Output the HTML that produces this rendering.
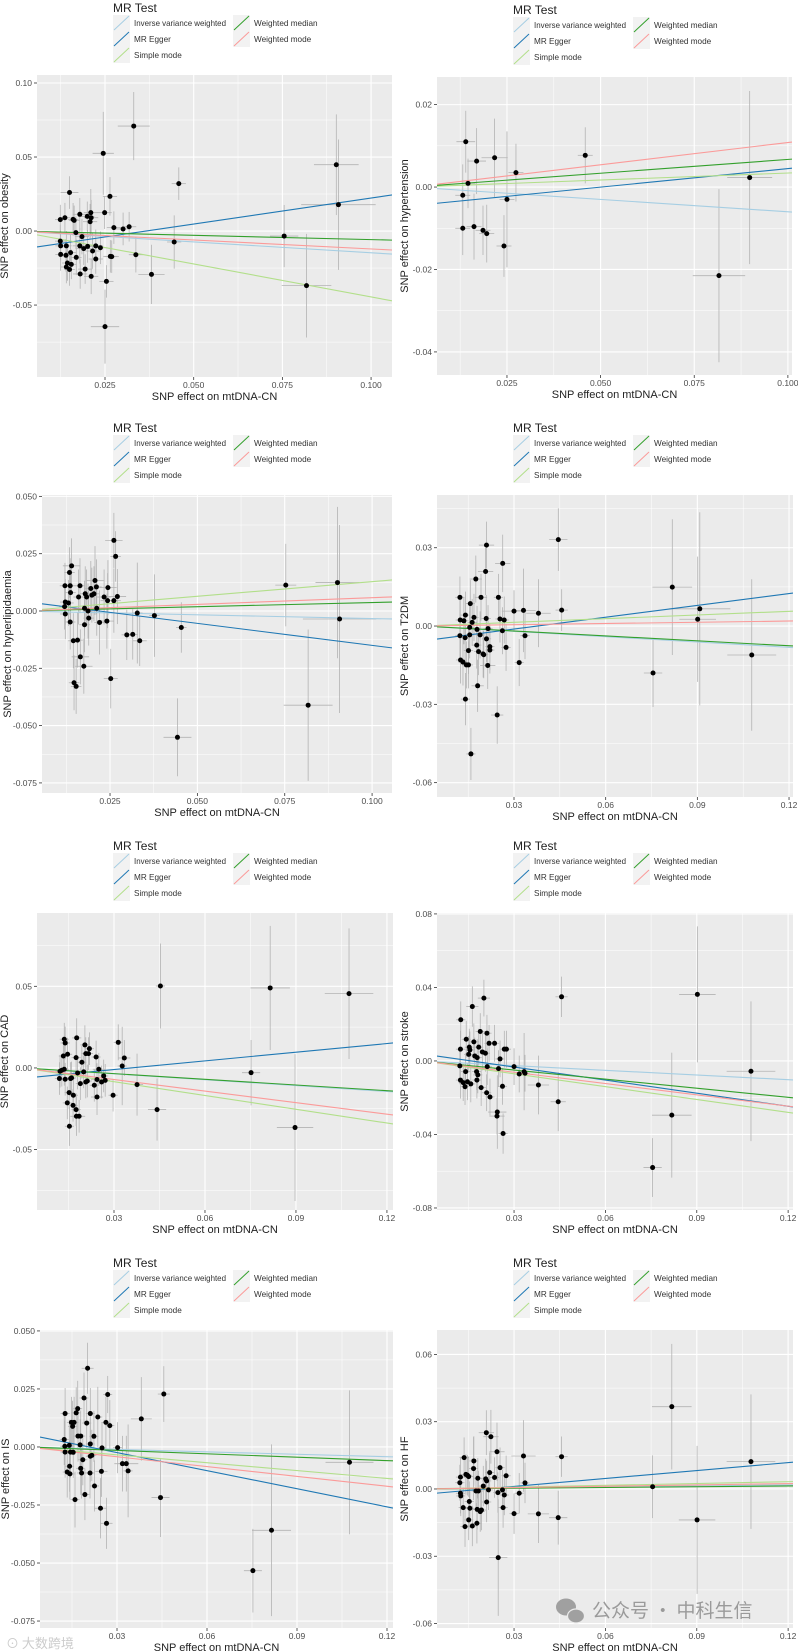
<!DOCTYPE html>
<html><head><meta charset="utf-8">
<style>
html,body{margin:0;padding:0;background:#fff;}
svg{display:block;font-family:"Liberation Sans","Noto Sans CJK SC",sans-serif;}
</style></head>
<body>
<svg id="fig" width="798" height="1652" viewBox="0 0 798 1652" xmlns="http://www.w3.org/2000/svg"></svg>
<script>
const methodNames = ["Inverse variance weighted","MR Egger","Simple mode","Weighted median","Weighted mode"];
const methodColors = ["#a6cee3","#1f78b4","#b2df8a","#33a02c","#fb9a99"];

const obX = [0.0124,0.0137,0.015,0.0124,0.0125,0.0125,0.0141,0.014,0.0144,0.0141,0.015,0.0155,0.0153,0.016,0.0163,0.0168,0.0169,0.0179,0.0179,0.018,0.0185,0.019,0.0194,0.02,0.0201,0.021,0.0211,0.0208,0.0211,0.0215,0.0224,0.0224,0.0237,0.0245,0.0249,0.025,0.0254,0.0264,0.0265,0.0269,0.0275,0.0301,0.0318,0.0331,0.0337,0.0381,0.0445,0.0458,0.0755,0.0818,0.0902,0.0908];
const obY = [0.0077,0.009,0.026,-0.0068,-0.010,-0.0158,-0.010,-0.0164,-0.0216,-0.0243,-0.026,-0.0225,-0.0146,0.0079,0.0072,-0.0011,-0.0178,0.0113,-0.010,-0.029,-0.0038,-0.0119,-0.0257,0.0099,-0.0104,0.0124,0.009,0.0063,-0.0306,-0.0135,-0.0189,-0.010,-0.0113,0.0525,0.0124,-0.0646,-0.034,0.0234,-0.0171,-0.0173,0.0023,0.0014,0.0029,0.0709,-0.016,-0.0293,-0.0074,0.032,-0.0034,-0.0369,0.0448,0.0178];
const obSY = [0.010,0.01,0.011,0.011,0.01,0.011,0.01,0.011,0.012,0.011,0.011,0.01,0.012,0.011,0.01,0.011,0.012,0.011,0.012,0.01,0.012,0.011,0.01,0.01,0.011,0.016,0.012,0.012,0.012,0.012,0.01,0.011,0.011,0.028,0.011,0.025,0.011,0.013,0.011,0.011,0.011,0.011,0.01,0.023,0.012,0.02,0.018,0.011,0.021,0.035,0.034,0.044];
const obSX = [0.0015,0.0015,0.0025,0.0015,0.0015,0.0015,0.0015,0.0015,0.0015,0.0015,0.0015,0.0015,0.0015,0.0015,0.0015,0.0015,0.0015,0.002,0.002,0.002,0.002,0.002,0.002,0.002,0.002,0.002,0.002,0.002,0.002,0.002,0.002,0.002,0.002,0.003,0.002,0.004,0.002,0.002,0.002,0.002,0.002,0.002,0.002,0.0045,0.002,0.0037,0.002,0.002,0.004,0.007,0.0063,0.0105];

const htX = [0.0140,0.0169,0.0146,0.0132,0.0132,0.0162,0.0186,0.0196,0.0217,0.0242,0.025,0.0274,0.0459,0.0816,0.0898];
const htY = [0.0110,0.0063,0.0009,-0.0020,-0.0100,-0.0096,-0.0105,-0.0113,0.0071,-0.0143,-0.0030,0.0035,0.0077,-0.0215,0.0023];
const htSY = [0.0075,0.008,0.006,0.0075,0.0065,0.008,0.006,0.007,0.0095,0.0075,0.0165,0.007,0.0068,0.021,0.021];
const htSX = [0.0025,0.0025,0.002,0.002,0.002,0.002,0.002,0.002,0.0035,0.002,0.002,0.002,0.002,0.007,0.006];

const hlX = [0.0121,0.0122,0.0122,0.012,0.0131,0.0134,0.014,0.0136,0.0137,0.0136,0.0145,0.0147,0.0153,0.0157,0.016,0.0164,0.0165,0.0175,0.0177,0.0177,0.0179,0.0183,0.0187,0.0189,0.0195,0.0198,0.0204,0.0207,0.0211,0.0212,0.022,0.0233,0.0241,0.0244,0.0243,0.0252,0.0261,0.0261,0.0266,0.0271,0.0298,0.0315,0.0328,0.0335,0.0377,0.0443,0.0454,0.0753,0.0817,0.0901,0.0907];
const hlY = [0.011,0.0039,-0.0013,0.0019,0.0035,0.0168,0.0197,0.011,0.008,-0.0048,-0.013,-0.0313,-0.0329,-0.0127,0.0061,0.011,-0.020,-0.0241,-0.006,0.0012,0.0075,0.0061,0.0,-0.0031,0.0098,0.0069,0.0075,0.0133,0.0105,0.0012,-0.005,0.0061,-0.0044,0.0102,0.0045,-0.0295,0.0308,0.0045,0.0238,0.0063,-0.0104,-0.0102,-0.0009,-0.013,-0.002,-0.0551,-0.0072,0.0113,-0.0411,0.0124,-0.0035];
const hlSY = [0.01,0.01,0.011,0.01,0.01,0.011,0.012,0.012,0.012,0.012,0.012,0.012,0.012,0.012,0.012,0.012,0.012,0.012,0.012,0.012,0.012,0.012,0.012,0.012,0.012,0.012,0.012,0.015,0.012,0.012,0.014,0.012,0.012,0.012,0.012,0.013,0.012,0.014,0.011,0.012,0.011,0.011,0.022,0.011,0.018,0.017,0.011,0.018,0.033,0.033,0.041];
const hlSX = [0.0015,0.0015,0.0015,0.0015,0.0015,0.0015,0.0025,0.0015,0.0015,0.0015,0.0015,0.0015,0.0015,0.0015,0.0015,0.0015,0.0025,0.0025,0.0015,0.0015,0.0015,0.0015,0.0015,0.0015,0.0015,0.0015,0.0015,0.0025,0.0015,0.0015,0.0015,0.002,0.002,0.0025,0.002,0.002,0.0025,0.002,0.0015,0.0025,0.0015,0.0015,0.0015,0.002,0.0015,0.004,0.0015,0.003,0.007,0.0063,0.0105];

const t2X = [0.0123,0.0124,0.0123,0.0125,0.0133,0.0136,0.0141,0.014,0.0141,0.0144,0.0151,0.0151,0.0155,0.0155,0.0157,0.0159,0.0163,0.0169,0.0175,0.0178,0.0179,0.0181,0.0184,0.0189,0.0192,0.0199,0.0201,0.0207,0.021,0.0209,0.021,0.0214,0.0215,0.0221,0.0221,0.0245,0.0249,0.0254,0.0263,0.0262,0.0268,0.0274,0.030,0.0317,0.0331,0.0336,0.038,0.0445,0.0456,0.0755,0.0818,0.0901,0.0908,0.1078];
const t2Y = [0.011,0.0023,-0.0037,-0.013,-0.0138,0.002,0.0042,-0.0045,-0.028,-0.0149,-0.0149,-0.0094,-0.0034,-0.0005,0.0086,-0.049,0.0014,0.0033,0.018,-0.0073,-0.0013,-0.0229,-0.0098,-0.0034,0.011,-0.0107,-0.011,0.0209,0.031,0.0029,-0.0049,-0.0151,-0.001,-0.0079,-0.0092,-0.0341,0.011,0.0027,0.024,-0.0018,0.0023,-0.0082,0.0057,-0.014,0.006,-0.0037,0.0049,0.0331,0.0061,-0.018,0.0149,0.0026,0.0066,-0.0111];
const t2SY = [0.008,0.009,0.009,0.009,0.009,0.009,0.009,0.009,0.01,0.009,0.009,0.009,0.009,0.009,0.009,0.01,0.009,0.009,0.009,0.009,0.009,0.01,0.009,0.009,0.009,0.009,0.009,0.009,0.009,0.009,0.009,0.009,0.009,0.009,0.009,0.011,0.009,0.009,0.011,0.009,0.009,0.009,0.008,0.009,0.016,0.009,0.013,0.012,0.008,0.013,0.026,0.024,0.037,0.029];
const t2SX = [0.0015,0.0015,0.0015,0.0015,0.0015,0.0015,0.0015,0.0015,0.0015,0.0015,0.0015,0.0015,0.0015,0.0015,0.0015,0.0015,0.0015,0.0015,0.002,0.0015,0.0015,0.002,0.0015,0.0015,0.002,0.0015,0.0015,0.0025,0.0025,0.0015,0.0015,0.0025,0.0015,0.0015,0.0015,0.002,0.0015,0.0015,0.0025,0.0015,0.0015,0.0015,0.004,0.0015,0.004,0.0015,0.004,0.003,0.002,0.003,0.0065,0.006,0.01,0.008];

const cdX = [0.012,0.0122,0.0128,0.0133,0.0136,0.0139,0.0136,0.0139,0.0146,0.0147,0.0152,0.0153,0.0157,0.016,0.0165,0.0166,0.0175,0.0175,0.0177,0.0176,0.018,0.0185,0.0189,0.0194,0.02,0.0204,0.0207,0.0207,0.0212,0.0216,0.0219,0.0235,0.0241,0.0244,0.0244,0.025,0.0259,0.0266,0.0271,0.0297,0.0314,0.0327,0.0334,0.0376,0.0442,0.0453,0.0752,0.0815,0.0897,0.1075];
const cdY = [-0.0065,-0.002,-0.0014,0.0073,0.0176,0.0153,-0.0008,-0.0069,-0.0214,0.0084,-0.0151,-0.0357,-0.0065,-0.0061,-0.0229,-0.0167,0.0063,-0.0255,0.0184,-0.0296,-0.0031,-0.0296,-0.0096,0.0035,-0.0024,0.0141,0.0088,-0.0086,-0.008,0.0088,0.0118,-0.0106,0.0067,-0.0178,-0.0071,-0.0008,-0.0086,-0.0049,-0.0076,-0.0167,0.0157,0.0012,0.0061,-0.0102,-0.0255,0.0502,-0.0029,0.049,-0.0365,0.0455];
const cdSY = [0.01,0.01,0.01,0.01,0.01,0.01,0.01,0.01,0.01,0.01,0.01,0.012,0.01,0.01,0.01,0.01,0.01,0.01,0.012,0.012,0.01,0.01,0.01,0.01,0.01,0.012,0.01,0.01,0.01,0.01,0.01,0.01,0.01,0.011,0.01,0.01,0.01,0.01,0.01,0.01,0.011,0.024,0.011,0.019,0.019,0.026,0.02,0.038,0.045,0.04];
const cdSX = [0.0015,0.0015,0.0015,0.0015,0.0015,0.0015,0.0015,0.0015,0.0015,0.0015,0.0015,0.0015,0.0015,0.0015,0.0015,0.0015,0.0015,0.0015,0.0015,0.002,0.0015,0.002,0.0015,0.0015,0.0015,0.0015,0.0015,0.0015,0.0015,0.0015,0.0015,0.0015,0.0015,0.002,0.002,0.002,0.0015,0.0015,0.0015,0.0015,0.0015,0.0015,0.002,0.002,0.003,0.0015,0.003,0.0065,0.006,0.008];

const stX = [0.0125,0.0124,0.0122,0.0124,0.0133,0.0139,0.0141,0.0143,0.0147,0.0151,0.0153,0.0155,0.0158,0.0163,0.0168,0.0171,0.0177,0.0179,0.0178,0.0181,0.0184,0.0189,0.0192,0.0196,0.0201,0.0206,0.021,0.0211,0.0212,0.0218,0.0221,0.0236,0.0244,0.0245,0.0249,0.0254,0.0262,0.0264,0.0268,0.0275,0.030,0.0317,0.0333,0.0336,0.038,0.0445,0.0456,0.0755,0.0818,0.0902,0.1078];
const stY = [0.0224,0.0064,-0.0027,-0.0104,-0.0118,-0.014,-0.0058,0.0118,-0.0113,0.0036,0.0075,0.006,-0.0125,0.0296,0.0104,0.0027,-0.0058,0.0018,-0.0104,-0.0076,0.0075,0.016,-0.0145,0.0049,0.0342,0.0042,-0.0173,0.0151,-0.0031,0.0096,-0.0196,0.0096,-0.030,-0.0278,-0.0042,0.0011,-0.0138,-0.0395,0.0064,0.0064,-0.0031,-0.0071,-0.0058,-0.0067,-0.0131,-0.0222,0.0349,-0.058,-0.0295,0.0362,-0.0056];
const stSY = [0.01,0.01,0.01,0.01,0.01,0.01,0.01,0.01,0.01,0.01,0.01,0.01,0.01,0.011,0.01,0.01,0.01,0.01,0.01,0.01,0.01,0.01,0.01,0.01,0.01,0.01,0.01,0.01,0.01,0.01,0.01,0.01,0.01,0.02,0.01,0.01,0.01,0.011,0.01,0.01,0.01,0.01,0.021,0.01,0.016,0.016,0.011,0.016,0.034,0.037,0.038];
const stSX = [0.0015,0.0015,0.0015,0.0015,0.0015,0.0015,0.0015,0.0015,0.0015,0.0015,0.0015,0.0015,0.0015,0.002,0.0015,0.0015,0.0015,0.0015,0.0015,0.0015,0.0015,0.0015,0.0015,0.0015,0.002,0.0015,0.0015,0.0015,0.0015,0.0015,0.0015,0.0015,0.0025,0.003,0.0015,0.0015,0.0015,0.0015,0.0015,0.0015,0.0015,0.0015,0.0015,0.0015,0.0035,0.0025,0.002,0.003,0.0065,0.006,0.008];

const isX = [0.0124,0.0127,0.0126,0.0127,0.0134,0.0141,0.0142,0.0143,0.0145,0.0148,0.0152,0.0154,0.0157,0.016,0.0164,0.0169,0.017,0.0177,0.0179,0.0179,0.0182,0.0186,0.019,0.0193,0.0199,0.0202,0.021,0.0211,0.0211,0.0211,0.0216,0.0223,0.0225,0.0236,0.0245,0.0248,0.025,0.0263,0.0265,0.0269,0.0276,0.0302,0.0318,0.0331,0.0337,0.0381,0.0445,0.0456,0.0753,0.0815,0.1075];
const isY = [0.0032,0.0144,0.0003,-0.0022,-0.0108,0.0007,-0.0083,-0.0116,-0.0022,0.0106,0.0089,-0.0023,0.0106,-0.0227,0.0147,0.0165,0.0047,0.0009,0.0047,-0.0092,-0.0112,-0.0055,0.0211,-0.0205,0.0103,0.0339,-0.0112,0.0013,0.0144,-0.004,-0.0036,0.0046,-0.0168,0.0129,-0.0264,-0.0105,-0.0004,0.0106,-0.0329,0.0226,0.0092,-0.0003,-0.0072,-0.0072,-0.0103,0.0121,-0.0218,0.0228,-0.0533,-0.0359,-0.0066];
const isSY = [0.011,0.011,0.011,0.011,0.011,0.011,0.011,0.011,0.011,0.011,0.011,0.011,0.011,0.012,0.011,0.012,0.011,0.011,0.011,0.011,0.011,0.011,0.011,0.011,0.011,0.011,0.011,0.011,0.011,0.011,0.011,0.011,0.011,0.013,0.013,0.011,0.011,0.011,0.011,0.008,0.011,0.011,0.012,0.012,0.02,0.018,0.017,0.012,0.018,0.037,0.031];
const isSX = [0.0015,0.0015,0.0015,0.0015,0.0015,0.0015,0.0015,0.0015,0.0015,0.0015,0.0015,0.0015,0.0015,0.0015,0.0015,0.0015,0.0015,0.0015,0.0015,0.0015,0.0015,0.0015,0.0015,0.0015,0.0015,0.002,0.0015,0.0015,0.0015,0.0015,0.0015,0.0015,0.0015,0.0015,0.002,0.002,0.0015,0.0015,0.002,0.0015,0.0015,0.0015,0.0015,0.004,0.0015,0.0035,0.003,0.002,0.003,0.0065,0.008];

const hfX = [0.0122,0.0124,0.0124,0.0125,0.0133,0.0136,0.0139,0.0142,0.0147,0.0151,0.0151,0.0153,0.0155,0.0163,0.0167,0.0168,0.0175,0.0178,0.0181,0.0179,0.0183,0.0189,0.0193,0.0199,0.0207,0.0209,0.021,0.021,0.0216,0.022,0.0224,0.0236,0.0244,0.0247,0.0248,0.0254,0.0262,0.0264,0.0268,0.0274,0.030,0.0317,0.0331,0.0336,0.038,0.0445,0.0456,0.0755,0.0818,0.0901,0.1078];
const hfY = [0.0028,0.0053,-0.0019,-0.0031,-0.0083,0.014,-0.0168,0.0065,0.0061,0.0055,-0.0138,-0.0056,-0.0086,-0.0165,0.0091,0.0125,-0.0009,-0.0153,0.0048,-0.0091,-0.0009,-0.0101,-0.0094,0.0013,0.0045,0.0251,0.0036,-0.0058,-0.0004,0.0073,0.0233,0.0051,0.0166,-0.0016,-0.0306,0.0095,-0.0004,-0.0083,-0.0027,0.0059,-0.011,-0.0019,0.0147,0.0027,-0.0111,-0.0128,0.0144,0.001,0.0367,-0.0138,0.0122];
const hfSY = [0.008,0.009,0.009,0.009,0.009,0.009,0.009,0.009,0.009,0.009,0.009,0.009,0.009,0.009,0.014,0.011,0.009,0.009,0.009,0.009,0.009,0.009,0.009,0.009,0.009,0.01,0.009,0.009,0.009,0.009,0.012,0.009,0.013,0.009,0.026,0.009,0.009,0.009,0.009,0.009,0.009,0.009,0.016,0.009,0.013,0.012,0.009,0.014,0.028,0.033,0.03];
const hfSX = [0.0015,0.0015,0.0015,0.0015,0.0015,0.0015,0.0015,0.0015,0.0015,0.0015,0.0015,0.0015,0.0015,0.0015,0.0015,0.0015,0.0015,0.0015,0.0015,0.0015,0.0015,0.0015,0.0015,0.0015,0.0015,0.0025,0.0015,0.0015,0.0015,0.0015,0.0025,0.0015,0.0025,0.0015,0.003,0.0015,0.0015,0.0015,0.0015,0.0015,0.0015,0.0015,0.004,0.0015,0.0035,0.003,0.002,0.003,0.0065,0.006,0.008];

const obSlopes = [-0.147,0.351,-0.445,-0.058,-0.121]; const obEggInt = -0.0128;
const htSlopes = [-0.060,0.0897,0.034,0.067,0.108];   const htEggInt = -0.0045;
const hlSlopes = [-0.033,-0.192,0.128,0.037,0.058];   const hlEggInt = 0.0042;
const t2Slopes = [-0.068,0.151,0.047,-0.063,0.016];   const t2EggInt = -0.0057;
const cdSlopes = [-0.12,0.177,-0.281,-0.116,-0.236];  const cdEggInt = -0.0063;
const stSlopes = [-0.085,-0.237,-0.233,-0.165,-0.205];const stEggInt = 0.0038;
const isSlopes = [-0.035,-0.26,-0.113,-0.049,-0.141]; const isEggInt = 0.0054;
const hfSlopes = [0.015,0.118,0.027,0.011,0.02];      const hfEggInt = -0.0024;

const xTicksA = [0.025,0.05,0.075,0.1]; const xTickLabelsA = ["0.025","0.050","0.075","0.100"];
const xTicksB = [0.03,0.06,0.09,0.12];  const xTickLabelsB = ["0.03","0.06","0.09","0.12"];
const yTicksOb = [-0.05,0,0.05,0.1];    const yTickLabelsOb = ["-0.05","0.00","0.05","0.10"];
const yTicksHt = [-0.04,-0.02,0,0.02];  const yTickLabelsHt = ["-0.04","-0.02","0.00","0.02"];
const yTicksHl = [-0.075,-0.05,-0.025,0,0.025,0.05]; const yTickLabelsHl = ["-0.075","-0.050","-0.025","0.000","0.025","0.050"];
const yTicksT2 = [-0.06,-0.03,0,0.03];  const yTickLabelsT2 = ["-0.06","-0.03","0.00","0.03"];
const yTicksCd = [-0.05,0,0.05];        const yTickLabelsCd = ["-0.05","0.00","0.05"];
const yTicksSt = [-0.08,-0.04,0,0.04,0.08]; const yTickLabelsSt = ["-0.08","-0.04","0.00","0.04","0.08"];
const yTicksIs = [-0.075,-0.05,-0.025,0,0.025,0.05]; const yTickLabelsIs = ["-0.075","-0.050","-0.025","0.000","0.025","0.050"];
const yTicksHf = [-0.06,-0.03,0,0.03,0.06]; const yTickLabelsHf = ["-0.06","-0.03","0.00","0.03","0.06"];

const panels = [
 {id:"obesity", L:37,R:392,T:75,B:377, xd:[0.00583,0.1059], yd:[-0.0986,0.1054], xt:xTicksA, xl:xTickLabelsA, yt:yTicksOb, yl:yTickLabelsOb, x:obX,y:obY,sy:obSY,sx:obSX, sl:obSlopes, ei:obEggInt},
 {id:"hypertension", L:437,R:792,T:77,B:375, xd:[0.00632,0.1011], yd:[-0.0456,0.0267], xt:xTicksA, xl:xTickLabelsA, yt:yTicksHt, yl:yTickLabelsHt, x:htX,y:htY,sy:htSY,sx:htSX, sl:htSlopes, ei:htEggInt},
 {id:"hyperlipidaemia", L:42,R:392,T:495,B:793, xd:[0.00553,0.1057], yd:[-0.0794,0.0506], xt:xTicksA, xl:xTickLabelsA, yt:yTicksHl, yl:yTickLabelsHl, x:hlX,y:hlY,sy:hlSY,sx:hlSX, sl:hlSlopes, ei:hlEggInt},
 {id:"T2DM", L:437,R:793,T:495,B:797, xd:[0.0048,0.1213], yd:[-0.0655,0.0502], xt:xTicksB, xl:xTickLabelsB, yt:yTicksT2, yl:yTickLabelsT2, x:t2X,y:t2Y,sy:t2SY,sx:t2SX, sl:t2Slopes, ei:t2EggInt},
 {id:"CAD", L:37,R:393,T:913,B:1210, xd:[0.00461,0.122], yd:[-0.087,0.0949], xt:xTicksB, xl:xTickLabelsB, yt:yTicksCd, yl:yTickLabelsCd, x:cdX,y:cdY,sy:cdSY,sx:cdSX, sl:cdSlopes, ei:cdEggInt},
 {id:"stroke", L:437,R:793,T:913,B:1210, xd:[0.0047,0.1216], yd:[-0.0811,0.0805], xt:xTicksB, xl:xTickLabelsB, yt:yTicksSt, yl:yTickLabelsSt, x:stX,y:stY,sy:stSY,sx:stSX, sl:stSlopes, ei:stEggInt},
 {id:"IS", L:40,R:393,T:1330,B:1628, xd:[0.00433,0.122], yd:[-0.078,0.0504], xt:xTicksB, xl:xTickLabelsB, yt:yTicksIs, yl:yTickLabelsIs, x:isX,y:isY,sy:isSY,sx:isSX, sl:isSlopes, ei:isEggInt},
 {id:"HF", L:437,R:793,T:1330,B:1628, xd:[0.0047,0.1216], yd:[-0.062,0.0709], xt:xTicksB, xl:xTickLabelsB, yt:yTicksHf, yl:yTickLabelsHf, x:hfX,y:hfY,sy:hfSY,sx:hfSX, sl:hfSlopes, ei:hfEggInt}
];

const NS = "http://www.w3.org/2000/svg";
const svg = document.getElementById("fig");
function mk(tag, attrs, parent, text){
  const e = document.createElementNS(NS, tag);
  for (const k in attrs) e.setAttribute(k, attrs[k]);
  if (text !== undefined) e.textContent = text;
  (parent || svg).appendChild(e);
  return e;
}

panels.forEach((p, pi) => {
  const g = mk("g", {});
  
  
  const sx = v => p.L + (v - p.xd[0]) / (p.xd[1] - p.xd[0]) * (p.R - p.L);
  const sy = v => p.B - (v - p.yd[0]) / (p.yd[1] - p.yd[0]) * (p.B - p.T);

  const lx = (pi % 2 === 0) ? 113 : 513;
  const ly = p.T - 75;
  const lg = mk("g", {}, g);
  
  
  const lt = mk("text", {x:lx, y:ly+12, "font-size":12, fill:"#222"}, lg, "MR Test");
  
  
  methodNames.forEach((m, mi) => {
    const col = mi < 3 ? 0 : 1, row = mi < 3 ? mi : mi - 3;
    const kx = lx + col * 120, ky = ly + 15 + row * 16;
    const ent = mk("g", {}, lg);
    
    
    mk("rect", {x:kx, y:ky, width:17, height:16, fill:"#f2f2f2"}, ent);
    mk("line", {x1:kx+1, y1:ky+15, x2:kx+16, y2:ky+1, stroke:methodColors[mi], "stroke-width":1}, ent);
    const tx = mk("text", {x:kx+21, y:ky+11, "font-size":8.2, fill:"#333"}, ent, m);
    if (m.length > 20) { tx.setAttribute("textLength", 92); tx.setAttribute("lengthAdjust", "spacingAndGlyphs"); }
  });

  const bg = mk("rect", {x:p.L, y:p.T, width:p.R-p.L, height:p.B-p.T, fill:"#ebebeb"}, g);
  
  
  const xstep = p.xt[1]-p.xt[0], ystep = p.yt[1]-p.yt[0];
  for (let v = p.xt[0] - 2*xstep; v <= p.xd[1] + xstep; v += xstep/2) {
    if (v < p.xd[0] || v > p.xd[1]) continue;
    const major = p.xt.some(t => Math.abs(t - v) < 1e-9);
    mk("line", {x1:sx(v), x2:sx(v), y1:p.T, y2:p.B, stroke:"#fff", "stroke-width": major ? 1.1 : 0.5}, g);
  }
  for (let v = p.yt[0] - 2*ystep; v <= p.yd[1] + ystep; v += ystep/2) {
    if (v < p.yd[0] || v > p.yd[1]) continue;
    const major = p.yt.some(t => Math.abs(t - v) < 1e-9);
    mk("line", {y1:sy(v), y2:sy(v), x1:p.L, x2:p.R, stroke:"#fff", "stroke-width": major ? 1.1 : 0.5}, g);
  }

  p.xt.forEach((t, i) => {
    mk("line", {x1:sx(t), x2:sx(t), y1:p.B, y2:p.B+3, stroke:"#333", "stroke-width":0.8}, g);
    const tl = mk("text", {x:sx(t), y:p.B+11, "font-size":8.5, fill:"#4d4d4d", "text-anchor":"middle"}, g, p.xl[i]);
    
    
  });
  p.yt.forEach((t, i) => {
    mk("line", {x1:p.L-3, x2:p.L, y1:sy(t), y2:sy(t), stroke:"#333", "stroke-width":0.8}, g);
    const tl = mk("text", {x:p.L-5, y:sy(t)+3, "font-size":8.5, fill:"#4d4d4d", "text-anchor":"end"}, g, p.yl[i]);
    
    
  });
  const xt = mk("text", {x:(p.L+p.R)/2, y:p.B+23, "font-size":11, fill:"#222", "text-anchor":"middle"}, g, "SNP effect on mtDNA-CN");
  
  
  const ytx = p.L - 29 - (p.yl[0].length > 5 ? 2 : 0);
  const yc = (p.T+p.B)/2;
  const yt = mk("text", {x:ytx, y:yc, "font-size":11, fill:"#222", "text-anchor":"middle", transform:`rotate(-90 ${ytx} ${yc})`}, g, "SNP effect on " + p.id);
  
  

  const cid = "clip" + pi;
  const cp = mk("clipPath", {id:cid}, g);
  mk("rect", {x:p.L, y:p.T, width:p.R-p.L, height:p.B-p.T}, cp);
  const pg = mk("g", {"clip-path":`url(#${cid})`}, g);

  p.x.forEach((xv, i) => {
    const eb = mk("g", {}, pg);
    
    
    mk("line", {x1:sx(xv), x2:sx(xv), y1:sy(p.y[i]-p.sy[i]), y2:sy(p.y[i]+p.sy[i]), stroke:"#b3b3b3", "stroke-width":0.8}, eb);
    mk("line", {x1:sx(xv-p.sx[i]), x2:sx(xv+p.sx[i]), y1:sy(p.y[i]), y2:sy(p.y[i]), stroke:"#b3b3b3", "stroke-width":0.8}, eb);
  });
  p.sl.forEach((s, mi) => {
    const b = mi === 1 ? p.ei : 0;
    const ln = mk("line", {x1:sx(p.xd[0]), y1:sy(b + s*p.xd[0]), x2:sx(p.xd[1]), y2:sy(b + s*p.xd[1]), stroke:methodColors[mi], "stroke-width":1.1}, pg);
    
    
  });
  p.x.forEach((xv, i) => {
    const c = mk("circle", {cx:sx(xv), cy:sy(p.y[i]), r:2.5, fill:"#000"}, pg);
    
    
  });
});

const w1 = mk("text", {x:6, y:1648, "font-size":13, fill:"#ccc", "font-family":"'Noto Sans CJK SC',sans-serif"}, svg, "⊙ 大数跨境");


const w2 = mk("text", {x:592, y:1617, "font-size":19, fill:"#9a9a9a", "font-family":"'Noto Sans CJK SC',sans-serif"}, svg, "公众号 · 中科生信");


const wi = mk("g", {}, svg);


mk("ellipse", {cx:566, cy:1607, rx:10, ry:8.5, fill:"#a0a0a0"}, wi);
mk("ellipse", {cx:576, cy:1616, rx:8.5, ry:7, fill:"#a0a0a0", stroke:"#ebebeb", "stroke-width":1.2}, wi);
</script>
</body></html>
